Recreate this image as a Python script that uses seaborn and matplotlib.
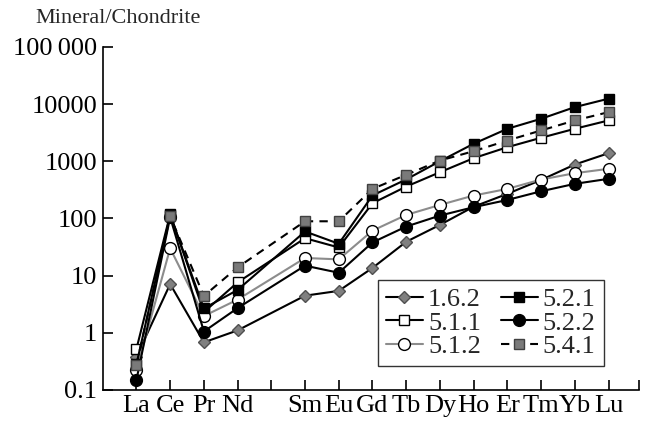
import numpy as np
import pandas as pd
import seaborn as sns
from matplotlib import pyplot as plt

elements = ["La", "Ce", "Pr", "Nd", "Sm", "Eu", "Gd", "Tb", "Dy", "Ho", "Er", "Tm", "Yb", "Lu"]
# position along the axis (Pm left empty)
positions = [1, 2, 3, 4, 6, 7, 8, 9, 10, 11, 12, 13, 14, 15]

s_162 = [0.38, 7.1, 0.68, 1.1, 4.45, 5.4, 13.6, 39, 77, 160, 269, 470, 875, 1380]
s_511 = [0.52, 118, 2.3, 7.6, 45, 31, 184, 360, 642, 1130, 1760, 2570, 3690, 5160]
s_512 = [0.22, 30, 1.96, 3.8, 20.3, 19.2, 61, 115, 172, 251, 328, 478, 617, 736]
s_521 = [0.28, 114, 2.67, 5.6, 59, 36, 252, 480, 1000, 2020, 3690, 5520, 8830, 12400]
s_522 = [0.15, 105, 1.05, 2.7, 14.9, 11.2, 38, 72, 112, 157, 210, 298, 402, 492]
s_541 = [0.275, 109, 4.4, 13.9, 89, 89, 328, 578, 1028, 1497, 2300, 3450, 5160, 7210]

series = {
    "1.6.2": s_162,
    "5.1.1": s_511,
    "5.1.2": s_512,
    "5.2.1": s_521,
    "5.2.2": s_522,
    "5.4.1": s_541,
}

styles = {
    "1.6.2": dict(color="black", marker="D", markersize=6, markerfacecolor="#808080", markeredgecolor="#505050", linestyle="-"),
    "5.1.1": dict(color="black", marker="s", markersize=7, markerfacecolor="white", markeredgecolor="black", linestyle="-"),
    "5.1.2": dict(color="#8c8c8c", marker="o", markersize=8.5, markerfacecolor="white", markeredgecolor="black", linestyle="-"),
    "5.2.1": dict(color="black", marker="s", markersize=7, markerfacecolor="black", markeredgecolor="black", linestyle="-"),
    "5.2.2": dict(color="black", marker="o", markersize=8.5, markerfacecolor="black", markeredgecolor="black", linestyle="-"),
    "5.4.1": dict(color="black", marker="s", markersize=7, markerfacecolor="#7a7a7a", markeredgecolor="#404040", linestyle=(0, (4, 3))),
}

sns.set_style("ticks")
plt.rcParams["font.family"] = ["Liberation Serif", "DejaVu Serif"]
plt.rcParams["xtick.direction"] = "in"
plt.rcParams["ytick.direction"] = "in"

fig = plt.figure(figsize=(6.46, 4.22), dpi=100)
ax = fig.add_axes([0.159, 0.076, 0.83, 0.813])

for name, vals in series.items():
    df = pd.DataFrame({"pos": positions, "val": vals})
    sns.lineplot(data=df, x="pos", y="val", ax=ax, label=name, linewidth=1.5,
                 markeredgewidth=1.0, solid_joinstyle="miter", **styles[name])

ax.set_yscale("log")
ax.set_ylim(0.1, 100000)
ax.set_xlim(0, 15.9)
ax.set_yticks([0.1, 1, 10, 100, 1000, 10000, 100000])
ax.set_yticklabels(["0.1", "1", "10", "100", "1000", "10000", "100\u2009000"])
ax.minorticks_off()
ax.set_xticks(list(range(1, 16)) + [15.9])
labels = elements[:4] + [""] + elements[4:] + [""]
ax.set_xticklabels(labels)
ax.tick_params(direction="in", length=7, width=1.2, labelsize=19, colors="black")
ax.tick_params(axis="y", pad=4)
ax.tick_params(axis="x", pad=4)
ax.set_xlabel("")
ax.set_ylabel("")
for side in ["top", "right"]:
    ax.spines[side].set_visible(False)
for side in ["left", "bottom"]:
    ax.spines[side].set_linewidth(1.2)
    ax.spines[side].set_color("black")

fig.text(0.054, 0.978, "Mineral/Chondrite", fontsize=16, ha="left", va="top")

leg = ax.legend(ncol=2, loc="lower left", bbox_to_anchor=(0.513, 0.07), borderaxespad=0,
                fontsize=19, frameon=True, fancybox=False, edgecolor="black",
                handlelength=1.4, handletextpad=0.2, columnspacing=0.75,
                labelspacing=0.0, borderpad=0.3)
leg.get_frame().set_linewidth(1.0)

fig.savefig("out.png", dpi=100)
